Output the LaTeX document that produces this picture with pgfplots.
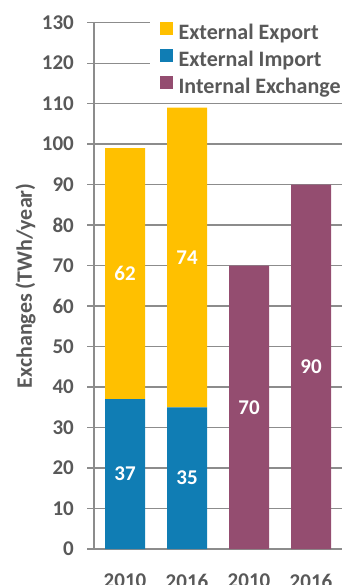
\documentclass[border=0pt]{standalone}
\usepackage{pgfplots}
\pgfplotsset{compat=1.18}
\usepackage{pgfplotstable}
\usepackage{fontspec}
\setmainfont{Carlito}

\definecolor{cExport}{HTML}{FFC000}
\definecolor{cImport}{HTML}{107DB4}
\definecolor{cInternal}{HTML}{944D70}
\definecolor{cText}{HTML}{595959}
\definecolor{cGrid}{HTML}{8C8C8C}

\newcommand\chartfont{\fontsize{21}{25}\selectfont\bfseries}
\newcommand\labelfont{\fontsize{22}{26}\selectfont\bfseries}

% exchanges in TWh/year; positions 0,1 = external (2010, 2016), 2,3 = internal (2010, 2016)
\pgfplotstableread{
x v
0 37
1 35
2 0
3 0
}\importdata
\pgfplotstableread{
x v
0 62
1 74
2 0
3 0
}\exportdata
\pgfplotstableread{
x v
0 0
1 0
2 70
3 90
}\internaldata

\pgfplotsset{
  segment labels/.style={
    visualization depends on={\thisrow{v}\as\segval},
    nodes near coords={\ifdim\segval pt>0pt \pgfmathprintnumber[fixed,precision=0]{\segval}\fi},
  },
}

\begin{document}
\begin{tikzpicture}
\begin{axis}[
  at={(94pt,36pt)}, anchor=south west,
  scale only axis, width=248pt, height=526.3pt,
  xmin=-0.5, xmax=3.5, ymin=0, ymax=130,
  ybar stacked, bar width=40pt,
  axis lines*=left,
  axis line style={-, draw=cGrid, line width=1.3pt},
  ytick={0,10,...,130},
  xtick={0,1,2,3}, xticklabels={2010,2016,2010,2016},
  x tick style={draw=none},
  y tick style={draw=cGrid, line width=1.3pt},
  tick align=outside, major tick length=7pt,
  ymajorgrids, grid style={draw=cGrid, line width=1.3pt},
  tick label style={font=\chartfont, text=cText},
  /pgf/number format/assume math mode=true,
  yticklabel style={anchor=east, inner sep=0pt, xshift=-13pt},
  xticklabel style={anchor=north, inner sep=0pt, yshift=-18pt},
  ylabel={Exchanges (TWh/year)},
  ylabel style={at={(axis description cs:-0.276,0.5)}, anchor=center,
    font=\labelfont, text=cText},
  every node near coord/.style={
    anchor=center, text=white, font=\chartfont, inner sep=0pt},
  legend style={at={(0.2258,1.0094)}, anchor=north west, draw=none,
    fill=white, inner xsep=10pt, inner ysep=4pt, font=\labelfont,
    text=cText, row sep=5.5pt,
    nodes={inner sep=0pt, text height=14pt, text depth=4pt},
    /tikz/every odd column/.append style={column sep=6pt}},
  legend cell align=left,
]
\addlegendimage{legend image code/.code={\fill[cExport] (0pt,0pt) rectangle (12pt,12.3pt);}}
\addlegendentry{External Export}
\addlegendimage{legend image code/.code={\fill[cImport] (0pt,0pt) rectangle (12pt,12.3pt);}}
\addlegendentry{External Import}
\addlegendimage{legend image code/.code={\fill[cInternal] (0pt,0pt) rectangle (12pt,12.3pt);}}
\addlegendentry{Internal Exchange}

\addplot[fill=cImport, draw=none, segment labels] table[x=x, y=v] {\importdata};
\addplot[fill=cExport, draw=none, segment labels] table[x=x, y=v] {\exportdata};
\addplot[fill=cInternal, draw=none, segment labels] table[x=x, y=v] {\internaldata};
\end{axis}
\pgfresetboundingbox
\useasboundingbox (0,0) rectangle (343pt,585pt);
\end{tikzpicture}
\end{document}
